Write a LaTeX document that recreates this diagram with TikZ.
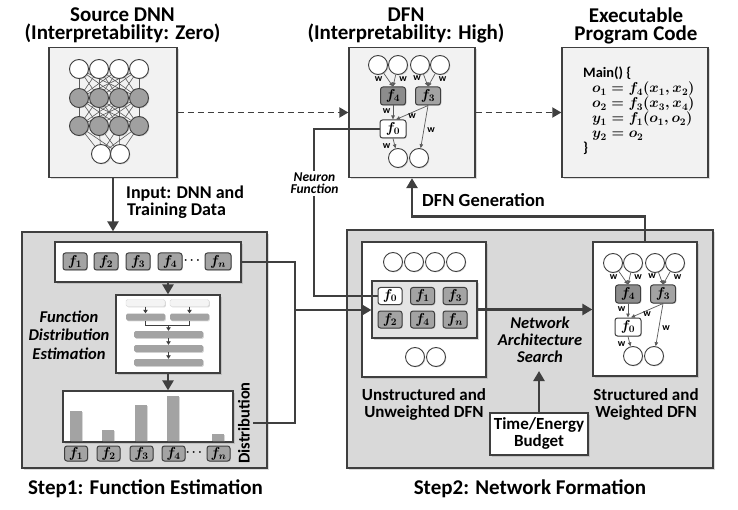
\documentclass[tikz,border=0pt]{standalone}
\usepackage{amsmath}
\usepackage[no-math]{fontspec}
\setmainfont{Carlito}
\usetikzlibrary{arrows.meta,shadows,calc}
\definecolor{dk}{HTML}{3F3F3F}
\definecolor{boxbg}{HTML}{F2F2F2}
\definecolor{stepbg}{HTML}{D9D9D9}
\definecolor{fgray}{HTML}{A3A3A3}
\definecolor{fdark}{HTML}{8C8C8C}
\definecolor{ngray}{HTML}{A0A0A0}
\definecolor{egray}{HTML}{5A5A5A}
\definecolor{innerbg}{HTML}{E4E4E4}
\definecolor{lbar}{HTML}{F4F4F4}
\newcommand{\fsz}[2]{\fontsize{#1}{#2}\selectfont}
\tikzset{
  shad/.style={drop shadow={opacity=0.28,shadow xshift=1.6pt,shadow yshift=-1.6pt}},
  sshad/.style={drop shadow={opacity=0.3,shadow xshift=0.9pt,shadow yshift=-0.9pt}},
  panel/.style={draw=dk,line width=1.3pt,fill=boxbg,shad,inner sep=0pt},
  steppanel/.style={panel,fill=stepbg},
  wpanel/.style={panel,fill=white},
  neuron/.style={circle,draw=dk,line width=0.9pt,fill=white,minimum size=19pt,inner sep=0pt,sshad},
  gneuron/.style={neuron,fill=ngray},
  fbox/.style={rounded corners=2.5pt,draw=dk,line width=1pt,fill=fgray,minimum width=24pt,minimum height=17pt,inner sep=0pt,sshad,font=\fsz{14.4}{14.4}\boldmath},
  fwhite/.style={fbox,fill=white},
  ttl/.style={font=\bfseries\fsz{21}{18.3},anchor=north,inner sep=0pt,align=center},
  stl/.style={font=\bfseries\fsz{21}{21},anchor=base,inner sep=0pt},
  lbl/.style={font=\bfseries\fsz{17}{17},anchor=base,inner sep=0pt},
  itl/.style={font=\bfseries\itshape\fsz{16.5}{16.5},anchor=base,inner sep=0pt},
  bigline/.style={draw=dk,line width=2.7pt},
  bigarrow/.style={bigline,-{Triangle[length=10pt,width=11pt]}},
  dasharrow/.style={draw=dk,line width=1.8pt,dash pattern=on 6pt off 4pt,-{Triangle[length=9pt,width=10pt]}},
  wedge/.style={draw=egray,line width=0.7pt,-{Triangle[length=4pt,width=3.5pt]}},
  wl/.style={font=\bfseries\fsz{10}{10},inner sep=0pt},
  nnline/.style={draw=egray,line width=0.6pt},
  tinyarrow/.style={draw=dk,line width=0.9pt,-{Triangle[length=3.5pt,width=4.5pt]}},
  lbarst/.style={fill=lbar,draw=black!15,line width=0.4pt,rounded corners=1.5pt,minimum width=39pt,minimum height=7pt,inner sep=0pt,sshad},
  gbar/.style={fill=fgray,rounded corners=1.5pt,minimum width=39pt,minimum height=7pt,inner sep=0pt,sshad},
  hbar/.style={fill=fgray,minimum width=12pt,inner sep=0pt,anchor=south,sshad},
  dbox/.style={fbox,minimum width=23pt,minimum height=15pt},
  dfnnet/.pic={
    \node[neuron] (-c1) at (0,0) {};
    \node[neuron] (-c2) at (20,0) {};
    \node[neuron] (-c3) at (42,0) {};
    \node[neuron] (-c4) at (62,0) {};
    \node[fbox,fill=fdark,minimum width=25pt,minimum height=18pt] (-f4) at (15,31) {$f_4$};
    \node[fbox,minimum width=25pt,minimum height=18pt] (-f3) at (50,31) {$f_3$};
    \node[fwhite,minimum width=26pt,minimum height=18pt] (-f0) at (15,64) {$f_0$};
    \node[neuron] (-c5) at (20,93) {};
    \node[neuron] (-c6) at (41,93) {};
    \draw[wedge] (-c1) -- (-f4.north);
    \draw[wedge] (-c2) -- (-f4.north);
    \draw[wedge] (-c3) -- (-f3.north);
    \draw[wedge] (-c4) -- (-f3.north);
    \draw[wedge] (-f4.south) -- (-f0.north);
    \draw[wedge] (-f3.south) -- ([xshift=3pt]-f0.north);
    \draw[wedge] (-f3.south) -- (-c6);
    \draw[wedge] (-f0.south) -- (-c5);
    \node[wl] (-w1) at (0.5,14.5) {w};
    \node[wl] (-w2) at (25,14.5) {w};
    \node[wl] (-w3) at (39,13.5) {w};
    \node[wl] (-w4) at (64.5,14.5) {w};
    \node[wl] (-w5) at (8.5,46) {w};
    \node[wl] (-w6) at (34,51) {w};
    \node[wl] (-w7) at (53,65) {w};
    \node[wl] (-w8) at (8.5,81) {w};
  }
}
\begin{document}
\begin{tikzpicture}[x=1pt,y=-1pt]
\useasboundingbox (0,0) rectangle (738,510);
% titles
\node[ttl] (t1) at (122.5,7.4) {Source DNN\\(Interpretability: Zero)};
\node[ttl] (t2) at (406,7.4) {DFN\\(Interpretability: High)};
\node[ttl] (t3) at (636,7.4) {Executable\\Program Code};
% panels
\node[panel,minimum width=128pt,minimum height=130pt] (src) at (113,112.5) {};
\node[panel,minimum width=126pt,minimum height=130pt] (dfn) at (412,112.5) {};
\node[panel,minimum width=146pt,minimum height=130pt] (exe) at (635,112.5) {};
\node[steppanel,minimum width=245pt,minimum height=236pt] (st1) at (144.5,350) {};
\node[steppanel,minimum width=366pt,minimum height=238pt] (st2) at (530,349) {};
% source DNN
\foreach \i/\x in {1/79,2/99,3/119,4/139}{
  \coordinate (pa\i) at (\x,69);
  \coordinate (pb\i) at (\x,98);
  \coordinate (pc\i) at (\x,126);
}
\coordinate (pd1) at (101,154);
\coordinate (pd2) at (120,154);
\foreach \i in {1,...,4}{
  \foreach \j in {1,...,4}{
    \draw[nnline] (pa\i) -- (pb\j);
    \draw[nnline] (pb\i) -- (pc\j);
  }
  \draw[nnline] (pc\i) -- (pd1);
  \draw[nnline] (pc\i) -- (pd2);
}
\foreach \i in {1,...,4}{
  \node[neuron] (na\i) at (pa\i) {};
  \node[gneuron] (nb\i) at (pb\i) {};
  \node[gneuron] (nc\i) at (pc\i) {};
}
\node[neuron] (nd1) at (pd1) {};
\node[neuron] (nd2) at (pd2) {};
% DFN top
\pic (tn) at (378,65) {dfnnet};
% executable code
\node[anchor=north west,inner sep=0pt,align=left,font=\bfseries\fsz{14.4}{15}\boldmath] (code) at (583,67)
 {Main() \{\\
  \hspace*{9pt}$o_1 = f_4(x_1,x_2)$\\
  \hspace*{9pt}$o_2 = f_3(x_3,x_4)$\\
  \hspace*{9pt}$y_1 = f_1(o_1,o_2)$\\
  \hspace*{9pt}$y_2 = o_2$\\
  \}};
% dashed arrows
\draw[dasharrow] (src.east) -- (dfn.west);
\draw[dasharrow] (dfn.east) -- (exe.west);
% input arrow
\draw[bigarrow] (src.south) -- (src.south |- st1.north);
\node[lbl,font=\bfseries\fsz{18}{18},anchor=base west] (in1) at (126,199) {Input: DNN and};
\node[lbl,font=\bfseries\fsz{18}{18},anchor=base west] (in2) at (127,216) {Training Data};
% step 1 contents
\node[wpanel,minimum width=186pt,minimum height=40pt] (flist) at (148,262) {};
\node[fbox] (l1) at (75,261.5) {$f_1$};
\node[fbox] (l2) at (106,261.5) {$f_2$};
\node[fbox] (l3) at (138,261.5) {$f_3$};
\node[fbox] (l4) at (170,261.5) {$f_4$};
\node[font=\fsz{12}{12}\boldmath] (ld) at (193,260.5) {$\cdots$};
\node[fbox,minimum width=26pt] (ln) at (218,261.5) {$f_n$};
\node[wpanel,minimum width=104pt,minimum height=78pt] (nnb) at (168,334) {};
\node[lbarst] (r1a) at (145.5,303) {};
\node[lbarst] (r1b) at (189.5,303) {};
\node[gbar] (r2a) at (145.5,317) {};
\node[gbar] (r2b) at (189.5,317) {};
\node[gbar,minimum width=69pt] (r3) at (168.5,334.5) {};
\node[gbar,minimum width=69pt] (r4) at (168.5,348.5) {};
\node[gbar,minimum width=69pt] (r5) at (168.5,362.5) {};
\draw[tinyarrow] (r1a) -- (r2a);
\draw[tinyarrow] (r1b) -- (r2b);
\draw[draw=dk,line width=0.9pt] (r2a.south) -- ++(0,5) -| (r2b.south);
\coordinate (brk) at (168.5,325.5);
\draw[tinyarrow] (brk) -- (r3.north);
\draw[tinyarrow] (r3) -- (r4);
\draw[tinyarrow] (r4) -- (r5);
\draw[bigarrow] (nnb.north |- flist.south) -- (nnb.north);
\node[itl] (fd1) at (69,322) {Function};
\node[itl] (fd2) at (69,340.5) {Distribution};
\node[itl] (fd3) at (69,359) {Estimation};
\node[wpanel,minimum width=170pt,minimum height=51pt] (dist) at (148,416.5) {};
\draw[bigarrow] (nnb.south) -- (nnb.south |- dist.north);
\node[hbar,minimum height=30pt] (h1) at (76,441) {};
\node[hbar,minimum height=11pt] (h2) at (108,441) {};
\node[hbar,minimum height=36pt] (h3) at (141,441) {};
\node[hbar,minimum height=45pt] (h4) at (173,441) {};
\node[hbar,minimum height=7pt] (h5) at (218,441) {};
\node[dbox] (d1) at (76,453.5) {$f_1$};
\node[dbox] (d2) at (108.5,453.5) {$f_2$};
\node[dbox] (d3) at (141.5,453.5) {$f_3$};
\node[dbox] (d4) at (173.5,453.5) {$f_4$};
\node[font=\fsz{12}{12}\boldmath] (dd) at (195,452.5) {$\cdots$};
\node[dbox] (d5) at (218.5,453.5) {$f_n$};
\node[font=\bfseries\fsz{16.5}{16.5},rotate=90] (dlab) at (244,423) {Distribution};
% connectors to step 2
\coordinate (jn) at (295,310);
\draw[bigline] (flist.east) -| (jn);
\draw[bigline] (dlab.south) -| (jn);
% step 2 contents
\node[wpanel,minimum width=124pt,minimum height=135pt] (udfn) at (424,309.5) {};
\node[panel,fill=innerbg,line width=1.1pt,minimum width=105pt,minimum height=57pt] (uin) at (424.5,309.5) {};
\foreach \i/\x in {1/393,2/414,3/435,4/456} \node[neuron] (ua\i) at (\x,262) {};
\node[neuron] (ub1) at (415,357) {};
\node[neuron] (ub2) at (436,357) {};
\node[fwhite] (uf0) at (390,296) {$f_0$};
\node[fbox] (uf1) at (422.5,296) {$f_1$};
\node[fbox] (uf3) at (455,296) {$f_3$};
\node[fbox] (uf2) at (390,319.5) {$f_2$};
\node[fbox] (uf4) at (422.5,319.5) {$f_4$};
\node[fbox] (ufn) at (455,319.5) {$f_n$};
\draw[bigarrow] (jn) -- (jn -| uin.west);
\node[lbl] (u1) at (424,400) {Unstructured and};
\node[lbl] (u2) at (424,417) {Unweighted DFN};
\node[wpanel,minimum width=104pt,minimum height=134pt] (sdfn) at (645,309) {};
\pic (sn) at (613,263) {dfnnet};
\node[lbl] (s1) at (646,400) {Structured and};
\node[lbl] (s2) at (646,417) {Weighted DFN};
\draw[bigarrow] (uin.east) -- (uin.east -| sdfn.west);
\node[itl] (nas1) at (540,328) {Network};
\node[itl] (nas2) at (540,345) {Architecture};
\node[itl] (nas3) at (540,362) {Search};
\node[wpanel,minimum width=98pt,minimum height=42pt] (bud) at (539,434) {};
\node[lbl] (b1) at (539,429) {Time/Energy};
\node[lbl] (b2) at (539,446) {Budget};
\coordinate (nasb) at (539,371);
\draw[bigarrow] (bud.north) -- (nasb);
% DFN generation
\draw[bigarrow] (sdfn.north) -- ++(0,-25) -| (dfn.south);
\node[lbl,font=\bfseries\fsz{18.5}{18.5},anchor=base west] (gen) at (422,207) {DFN Generation};
% neuron function
\coordinate (nfx) at (314,0);
\draw[draw=dk,line width=1.3pt] (tn-f0.west) -- (tn-f0.west -| nfx) -- (nfx |- uf0.west) -- (uf0.west);
\node[fill=white,inner sep=2pt,font=\bfseries\itshape\fsz{13.5}{13.5},anchor=base] (nf1) at (314.5,182) {Neuron};
\node[fill=white,inner sep=2pt,font=\bfseries\itshape\fsz{13.5}{13.5},anchor=base] (nf2) at (314.5,194) {Function};
% step titles
\node[stl] (st1t) at (145.5,494) {Step1: Function Estimation};
\node[stl] (st2t) at (530,494) {Step2: Network Formation};
\end{tikzpicture}
\end{document}
